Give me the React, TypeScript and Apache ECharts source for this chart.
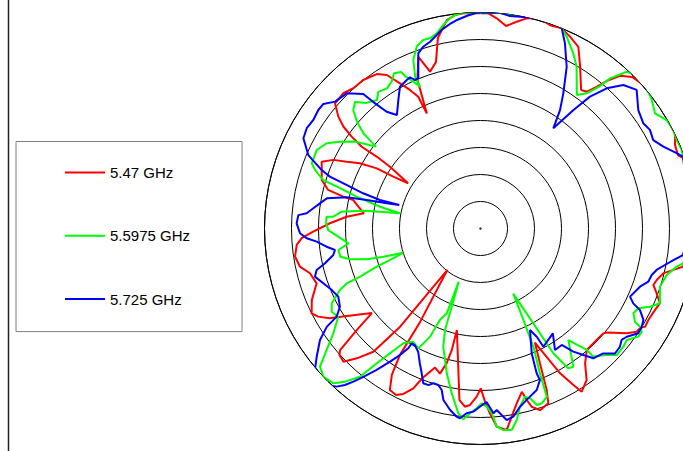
import React, { useEffect, useRef } from "react";
import * as echarts from "echarts";

// Radiation pattern, angle in degrees (clockwise from top), level in dB
const seriesNames = ["5.47 GHz", "5.5975 GHz", "5.725 GHz"];
const seriesColors = ["#ff0000", "#00ff00", "#0000ff"];

const radiusMin = -40;
const radiusMax = 0;
const radiusStep = 5;

const angles5470 = [
  0.1, 2.1, 4.4, 7.2, 9.9, 12.4, 15.8, 18.9, 22.1, 25.0, 28.3, 31.6, 36.0, 37.9, 39.4, 40.6, 42.4, 45.0, 48.2, 51.8,
  56.3, 59.7, 63.1, 66.8, 69.6, 70.8, 76, 82, 88, 94, 100.7, 102.1, 103.8, 106.3, 108.1, 110.2, 112.6, 115.0, 118.6,
  120.8, 122.0, 123.5, 125.6, 129.5, 130.5, 133.8, 138.8, 142.2, 145.0, 148.2, 149.3, 151.2, 154.5, 156.2, 157.7,
  158.8, 161.85, 164.0, 164.9, 165.8, 168.3, 170.6, 172.6, 175.3, 177.1, 178.5, 179.9, 181.3, 183.4, 185.0, 187.0,
  193.1, 193.3, 194.1, 195.6, 198.1, 201.2, 202.8, 205.0, 206.9, 209.3, 211.2, 212.5, 212.9, 218.7, 219.3, 221.0,
  223.6, 225.8, 228.1, 229.1, 230.65, 232.1, 237.4, 239.2, 241.5, 243.3, 247.0, 251.5, 255.3, 258.05, 261.4, 264.9,
  266.9, 268.9, 272.0, 275.0, 277.4, 282.6, 283.05, 284.2, 287.0, 292.8, 295.0, 296.5, 298.4, 300.1, 300.7, 302.0,
  304.3, 304.7, 304.55, 305.5, 306.6, 308.2, 310.7, 314.6, 317.8, 321.7, 326.1, 328.6, 331.0, 333.0, 334.7, 335.0,
  337.0, 340.1, 342.15, 345.0, 347.4, 350.8, 353.2, 355.4, 360,
];
const gains5470 = [
  -0.15, -0.13, -0.96, -2.2, -1.13, -0.15, 0.46, -0.2, 0, -0.8, -1.78, -4.8, -8.3, -7.9, -6.0, -4.0, -1.7, -0.3, 0.13,
  0.63, 0.59, 0.63, 0.37, -0.8, -1.0, -0.3, -0.8, -0.3, -1.2, -1.0, -1.85, -3.48, -5.15, -6.0, -6.33, -5.24, -4.0,
  -4.33, -4.6, -4.5, -5.2, -5.33, -6.7, -9.7, -10.1, -10.2, -10.1, -8.4, -5.74, -4.44, -6.3, -9.4, -16.6, -12.7,
  -7.7, -5.3, -4.6, -5.67, -7.1, -8.8, -6.94, -4.67, -2.37, -3.17, -5.74, -7.9, -10.4, -8.85, -7.26, -6.87, -8.0,
  -20.7, -16.9, -14.3, -12.1, -12.9, -10.3, -7.9, -6.2, -5.43, -5.7, -8.3, -12.2, -19.4, -30.2, -16.5, -9.76, -6.8,
  -4.6, -4.9, -5.6, -10.4, -14.5, -9.76, -7.5, -5.8, -5.0, -6.06, -8.0, -7.35, -5.83, -5.26, -5.83, -6.83, -9.0,
  -12.1, -15.1, -18.2, -15.85, -13.9, -10.9, -9.26, -8.1, -9.93, -12.3, -14.6, -17.8, -21.2, -24.2, -19.7, -16.6,
  -13.3, -10.7, -8.4, -6.5, -4.46, -4.33, -4.94, -4.96, -5.54, -6.7, -9.26, -11.2, -13.0, -16.5, -10.1, -6.2, -9.5,
  -8.1, -3.85, -0.9, -0.2, 0.0, -0.15,
];

const angles55975 = [
  0.1, 5.2, 7.9, 11.2, 14.6, 17.1, 18.0, 21.3, 24.2, 27.9, 30.7, 35.8, 38.15, 40.0, 40.8, 43.0, 45.5, 49.85, 53.1,
  56.6, 59.8, 62.9, 65.7, 68.7, 75, 81, 87, 93, 99.75, 101.0, 104.0, 108.0, 112.6, 114.8, 116.8, 119.0, 121.1, 121.6,
  122.6, 124.4, 127.3, 129.6, 132.9, 135.1, 138.65, 138.8, 141.8, 146.1, 147.9, 149.7, 153.3, 154.9, 155.9, 157.7,
  158.5, 160.7, 162.3, 163.75, 165.2, 167.5, 169.3, 171.2, 173.55, 175.3, 176.5, 178.0, 179.6, 181.2, 183.25, 185.15,
  186.85, 189.9, 193.1, 197.5, 199.3, 200.2, 202.3, 201.7, 203.9, 205.0, 207.4, 210.7, 213.9, 216.0, 217.6, 219.1,
  221.5, 223.55, 226.7, 229.3, 231.7, 234.55, 238.2, 240.8, 243.3, 246.4, 247.7, 248.2, 249.8, 250.8, 252.6, 253.8,
  254.9, 256.7, 258.65, 261.4, 263.6, 266.7, 269.4, 271.9, 274.4, 274.6, 276.9, 278.6, 279.5, 280.7, 282.2, 284.4,
  286.0, 287.1, 289.5, 291.1, 295.6, 299.0, 301.7, 304.7, 308.05, 309.05, 310.8, 312.97, 315.2, 317.8, 321.15, 323.2,
  326.3, 328.8, 330.9, 333.1, 333.66, 335.4, 336.9, 336.7, 338.25, 340.7, 343.1, 345.1, 347.4, 349.6, 351.7, 353.2,
  355.4, 360,
];
const gains55975 = [
  -0.04, 0.13, -0.1, 0.5, 1.19, 1.7, 1.57, 0.46, -1.06, -3.28, -5.15, -9.5, -8.17, -5.56, -3.28, -0.3, 0.56, 0.26,
  -0.35, -1.28, -0.1, 0.1, -0.15, 0, -0.5, 0.2, -0.8, -0.6, -1.94, -2.98, -4.46, -5.06, -4.0, -5.43, -7.26, -7.63,
  -6.6, -5.3, -4.55, -4.57, -5.94, -5.67, -5.57, -6.9, -8.4, -10.1, -13.7, -9.17, -9.43, -13.2, -26.5, -21.3, -16.0,
  -11.0, -6.5, -5.7, -5.7, -7.24, -7.8, -6.2, -3.9, -2.24, -2.44, -3.17, -5.72, -6.98, -7.63, -6.7, -5.72, -4.52,
  -5.54, -9.0, -12.46, -17.06, -20.1, -24.6, -29.35, -23.1, -21.5, -17.9, -15.0, -15.6, -14.4, -11.45, -8.5, -4.63,
  -2.13, -0.44, 0, -0.78, -3.7, -6.54, -9.0, -8.43, -9.17, -11.6, -13.2, -16.0, -19.5, -22.3, -25.0, -21.3, -18.2,
  -15.2, -13.5, -13.4, -15.4, -13.6, -11.8, -11.4, -11.4, -12.65, -14.1, -18.05, -21.1, -24.8, -20.96, -16.3,
  -12.94, -9.54, -7.5, -6.5, -6.37, -7.44, -9.4, -11.7, -15.4, -12.2, -9.8, -7.8, -7.0, -8.6, -9.44, -8.4, -8.8,
  -8.2, -7.1, -7.5, -8.5, -10.1, -11.45, -9.4, -6.4, -4.3, -3.5, -3.56, -2.94, -1.69, -0.67, -0.19, 0.09, -0.04,
];

const angles5725 = [
  0.1, 5.2, 7.9, 12.3, 15.8, 19.3, 22.1, 24.5, 28.05, 31.5, 33.9, 36.0, 38.1, 39.7, 42.0, 44.9, 48.4, 53.1, 57.1,
  59.8, 62.9, 65.9, 69.0, 70.5, 76, 82, 88, 93, 97.5, 99.3, 101.2, 103.25, 105.2, 107.6, 110.05, 114.5, 116.1, 117.1,
  119.3, 121.35, 123.6, 126.5, 128.3, 130.3, 132.9, 135.5, 139.0, 140.9, 143.0, 145.1, 148.5, 145.4, 152.0, 152.55,
  154.0, 157.7, 158.8, 158.6, 160.8, 163.6, 165.6, 167.5, 170.1, 172.2, 173.1, 174.9, 176.0, 178.0, 180.2, 182.25,
  184.3, 186.2, 187.2, 189.5, 192.2, 193.5, 195.1, 197.0, 198.4, 200.3, 202.1, 204.2, 206.8, 209.35, 210.9, 211.1,
  212.5, 214.2, 216.3, 218.3, 219.7, 220.9, 222.3, 224.5, 226.97, 229.5, 231.95, 235.2, 237.4, 238.5, 240.9, 244.4,
  247.5, 250.8, 253.8, 255.8, 257.4, 259.8, 261.6, 263.25, 265.4, 266.8, 268.5, 271.6, 274.2, 275.0, 276.9, 278.9,
  281.1, 283.1, 284.1, 285.0, 286.1, 285.8, 286.7, 288.0, 289.0, 290.2, 293.1, 297.0, 300.0, 303.0, 306.15, 308.4,
  311.1, 315.3, 318.9, 319.9, 321.2, 323.6, 327.4, 330.4, 333.6, 335.0, 336.2, 337.5, 340.45, 342.5, 344.9, 347.25,
  348.9, 351.5, 353.9, 356.6, 359.1, 360,
];
const gains5725 = [
  -0.04, 0.13, -0.28, 0.04, 0.46, 0.78, 0, -2.3, -6.06, -10.65, -13.6, -17.06, -12.1, -8.26, -5.07, -2.5, -1.33,
  -3.46, -4.1, -3.7, -4.06, -2.9, -1.1, -0.2, -0.6, -1.2, -0.7, -1.6, -2.2, -3.8, -5.2, -6.5, -7.15, -7.4, -8.56,
  -9.57, -8.5, -6.83, -5.4, -5.04, -4.93, -6.3, -6.7, -6.15, -6.0, -7.57, -8.15, -9.8, -11.44, -13.7, -13.6, -16.4,
  -15.2, -17.4, -19.1, -15.0, -11.24, -9.85, -8.33, -7.54, -6.9, -6.2, -4.63, -4.2, -4.9, -6.26, -5.7, -7.85, -7.0,
  -6.06, -5.7, -4.65, -4.87, -5.93, -7.5, -9.24, -9.98, -10.04, -9.44, -9.44, -11.06, -12.6, -14.4, -15.2, -15.2,
  -14.1, -12.2, -10.2, -7.5, -5.0, -3.13, -1.67, -0.41, 0.63, 0.65, 0.32, -1.48, -3.8, -6.2, -8.76, -10.2, -10.8,
  -10.2, -9.17, -8.07, -8.7, -10.5, -12.3, -12.76, -11.3, -9.57, -7.76, -6.56, -5.94, -6.17, -7.69, -8.81, -9.9,
  -11.0, -14.56, -18.3, -22.0, -24.35, -20.65, -17.3, -13.9, -10.5, -8.67, -5.33, -3.19, -2.85, -3.09, -2.8, -2.87,
  -4.26, -4.78, -6.96, -9.7, -12.26, -13.9, -11.76, -9.8, -9.3, -9.1, -9.94, -9.9, -5.57, -4.7, -4.17, -3.26, -2.54,
  -1.7, -1.07, -0.48, -0.04, -0.04,
];

const curveAngles = [angles5470, angles55975, angles5725];
const curveGains = [gains5470, gains55975, gains5725];

export default function App() {
  const ref = useRef<HTMLDivElement>(null);

  useEffect(() => {
    if (!ref.current) return;
    const chart = echarts.init(ref.current, undefined, { renderer: "svg" });

    const lineSeries = seriesNames.map((name, i) => ({
      name,
      type: "line",
      coordinateSystem: "polar",
      data: curveGains[i].map((g, k) => [g, curveAngles[i][k]]),
      symbol: "none",
      showSymbol: false,
      clip: false,
      silent: true,
      lineStyle: { color: seriesColors[i], width: 2 },
      itemStyle: { color: seriesColors[i] },
      z: 3,
    }));

    chart.setOption({
      animation: false,
      polar: { center: [480.5, 228.5], radius: 216 },
      angleAxis: {
        type: "value",
        min: 0,
        max: 360,
        startAngle: 90,
        clockwise: true,
        axisLine: { show: true, lineStyle: { color: "#000", width: 1 } },
        axisTick: { show: false },
        axisLabel: { show: false },
        splitLine: { show: false },
      },
      radiusAxis: {
        type: "value",
        min: radiusMin,
        max: radiusMax,
        interval: radiusStep,
        axisLine: { show: false },
        axisTick: { show: false },
        axisLabel: { show: false },
        splitLine: { show: true, lineStyle: { color: "#000", width: 1 } },
      },
      legend: {
        data: seriesNames.map((name) => ({ name, icon: "rect" })),
        orient: "vertical",
        left: 16,
        top: 141.5,
        padding: [23.5, 52, 25, 49],
        itemGap: 48.3,
        itemWidth: 40,
        itemHeight: 2,
        selectedMode: false,
        borderColor: "#808080",
        borderWidth: 1,
        textStyle: { fontFamily: "Liberation Sans, Arial, sans-serif", fontSize: 15, color: "#000", lineHeight: 15 },
      },
      graphic: [
        {
          type: "line",
          shape: { x1: 8.5, y1: 0, x2: 8.5, y2: 451 },
          style: { stroke: "#222", lineWidth: 1.5 },
        },
      ],
      series: [
        ...lineSeries,
        {
          type: "scatter",
          coordinateSystem: "polar",
          data: [[radiusMin, 0]],
          symbolSize: 2.5,
          itemStyle: { color: "#000" },
          silent: true,
          z: 4,
        },
      ],
    });

    return () => chart.dispose();
  }, []);

  return <div ref={ref} style={{ position: "absolute", left: 0, top: 0, width: 683, height: 451 }} />;
}
